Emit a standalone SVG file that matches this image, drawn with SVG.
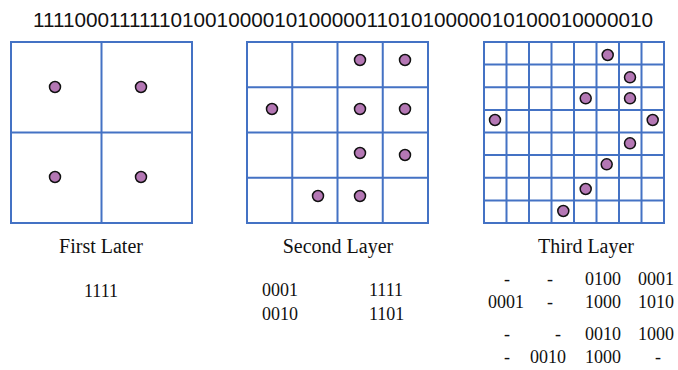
<svg xmlns="http://www.w3.org/2000/svg" width="678" height="370" viewBox="0 0 678 370">
<style>
.g{fill:none;stroke:#4472c4;stroke-width:2}
.d{fill:#b477b4;stroke:#111;stroke-width:1.5}
.top{font-family:"Liberation Sans",Arial,sans-serif;font-size:20px;fill:#111}
.t{font-family:"Liberation Serif","Times New Roman",serif;font-size:20px;fill:#111;text-anchor:middle}
.n{font-family:"Liberation Serif","Times New Roman",serif;font-size:18px;fill:#111}
.m{text-anchor:middle}
</style>
<rect width="678" height="370" fill="#fff"/>
<text class="top" x="33" y="27" textLength="620" lengthAdjust="spacingAndGlyphs">1111000111111010010000101000001101010000010100010000010</text>

<g id="layer1">
<rect class="g" x="11" y="42" width="181" height="181"/>
<path class="g" d="M101.5 42V223M11 132.5H192"/>
<circle class="d" cx="55" cy="87" r="5.5"/>
<circle class="d" cx="141" cy="87" r="5.5"/>
<circle class="d" cx="55" cy="177" r="5.5"/>
<circle class="d" cx="141" cy="177" r="5.5"/>
</g>

<g id="layer2">
<rect class="g" x="247" y="42" width="181" height="181"/>
<path class="g" d="M292.25 42V223M337.5 42V223M382.75 42V223M247 87.25H428M247 132.5H428M247 177.75H428"/>
<circle class="d" cx="360" cy="60" r="5.5"/>
<circle class="d" cx="405" cy="60" r="5.5"/>
<circle class="d" cx="272" cy="109" r="5.5"/>
<circle class="d" cx="360" cy="109" r="5.5"/>
<circle class="d" cx="405" cy="109" r="5.5"/>
<circle class="d" cx="360" cy="153" r="5.5"/>
<circle class="d" cx="405" cy="155" r="5.5"/>
<circle class="d" cx="318" cy="196" r="5.5"/>
<circle class="d" cx="360" cy="196" r="5.5"/>
</g>

<g id="layer3">
<rect class="g" x="484" y="42" width="180" height="181"/>
<path class="g" d="M506.5 42V223M529 42V223M551.5 42V223M574 42V223M596.5 42V223M619 42V223M641.5 42V223M484 64.6H664M484 87.25H664M484 109.9H664M484 132.5H664M484 155.1H664M484 177.75H664M484 200.4H664"/>
<circle class="d" cx="607.7" cy="55" r="5.5"/>
<circle class="d" cx="630" cy="77.3" r="5.5"/>
<circle class="d" cx="585.7" cy="98.3" r="5.5"/>
<circle class="d" cx="630" cy="98.3" r="5.5"/>
<circle class="d" cx="495" cy="120" r="5.5"/>
<circle class="d" cx="652.7" cy="120" r="5.5"/>
<circle class="d" cx="630" cy="143.3" r="5.5"/>
<circle class="d" cx="606.7" cy="164.3" r="5.5"/>
<circle class="d" cx="585.7" cy="189" r="5.5"/>
<circle class="d" cx="563.3" cy="211" r="5.5"/>
</g>

<g id="labels">
<text class="t" x="101" y="253">First Later</text>
<text class="t" x="338" y="253">Second Layer</text>
<text class="t" x="586" y="253">Third Layer</text>
</g>

<g id="codes1">
<text class="n m" x="101" y="297">1111</text>
</g>
<g id="codes2">
<text class="n" x="262" y="296">0001</text>
<text class="n" x="262" y="320">0010</text>
<text class="n" x="369" y="296">1111</text>
<text class="n" x="369" y="320">1101</text>
</g>
<g id="codes3">
<text class="n m" x="507" y="285">-</text>
<text class="n m" x="550" y="285">-</text>
<text class="n" x="585" y="285">0100</text>
<text class="n" x="638" y="285">0001</text>
<text class="n" x="488" y="308">0001</text>
<text class="n m" x="550" y="308">-</text>
<text class="n" x="585" y="308">1000</text>
<text class="n" x="638" y="308">1010</text>
<text class="n m" x="507" y="340">-</text>
<text class="n m" x="558" y="340">-</text>
<text class="n" x="585" y="340">0010</text>
<text class="n" x="638" y="340">1000</text>
<text class="n m" x="507" y="363">-</text>
<text class="n" x="530" y="363">0010</text>
<text class="n" x="585" y="363">1000</text>
<text class="n m" x="658" y="363">-</text>
</g>
</svg>
